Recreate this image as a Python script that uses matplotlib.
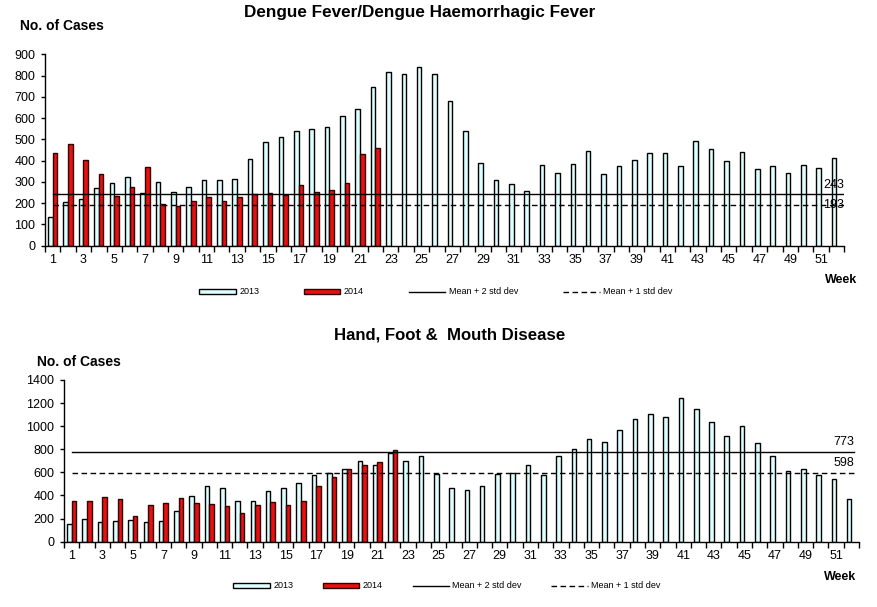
import numpy as np
import matplotlib.pyplot as plt
from matplotlib.patches import Patch
from matplotlib.lines import Line2D

plt.rcParams['font.family'] = ['Liberation Sans', 'DejaVu Sans']

weeks = list(range(1, 53))

dengue_2013 = [133, 204, 218, 270, 293, 321, 246, 298, 251, 274, 307, 307, 312,
               406, 490, 509, 538, 547, 556, 608, 641, 745, 815, 806, 839, 806,
               679, 538, 387, 307, 288, 255, 378, 340, 386, 445, 337, 375, 403,
               436, 436, 373, 492, 455, 398, 440, 361, 373, 342, 379, 365, 412]
dengue_2014 = [437, 476, 401, 335, 233, 274, 368, 194, 186, 208, 227, 208, 227,
               241, 246, 237, 284, 251, 260, 293, 429, 458]
dengue_2sd = 243
dengue_1sd = 193

hfmd_2013 = [153, 193, 167, 176, 185, 167, 176, 263, 393, 479, 462, 349, 349,
             436, 462, 505, 574, 592, 626, 696, 661, 768, 696, 739, 583, 462,
             445, 479, 583, 592, 661, 574, 739, 800, 886, 860, 964, 1059, 1103,
             1077, 1241, 1146, 1033, 912, 999, 852, 739, 609, 626, 574, 540, 367]
hfmd_2014 = [349, 349, 384, 367, 219, 315, 332, 375, 332, 323, 306, 245, 315,
             341, 315, 349, 479, 557, 626, 661, 687, 791]
hfmd_2sd = 773
hfmd_1sd = 598

c13 = '#DDFFFF'
c14 = '#E81010'

fig = plt.figure(figsize=(8.78, 6.07), dpi=100)


def draw(ax, v13, v14, sd2, sd1, ymax, ystep, line_end):
    x = np.arange(len(weeks))
    ax.bar(x - 0.15, v13, width=0.3, color=c13, edgecolor='black', linewidth=1)
    x14 = np.arange(len(v14))
    ax.bar(x14 + 0.15, v14, width=0.3, color=c14, edgecolor='#300000', linewidth=1)
    ax.plot([0, line_end], [sd2, sd2], color='black', lw=1)
    ax.plot([0, line_end], [sd1, sd1], color='black', lw=1, ls=(0, (4, 2.5)))
    ax.set_xlim(-0.5, len(weeks) - 0.5)
    ax.set_ylim(0, ymax)
    ax.set_yticks(np.arange(0, ymax + 1, ystep))
    ax.set_xticks(np.arange(len(weeks) + 1) - 0.5)
    ax.set_xticklabels([])
    ax.set_xticks([w - 1 for w in weeks if w % 2 == 1], minor=True)
    ax.set_xticklabels([str(w) for w in weeks if w % 2 == 1], minor=True)
    ax.tick_params(axis='x', which='major', length=4, width=1, direction='out')
    ax.tick_params(axis='x', which='minor', length=0, pad=6, labelsize=9)
    ax.tick_params(axis='y', length=3, width=1, labelsize=9, pad=4)
    for s in ['top', 'right']:
        ax.spines[s].set_visible(False)
    for s in ['left', 'bottom']:
        ax.spines[s].set_linewidth(1)


ax1 = fig.add_axes([0.0513, 0.5952, 0.91, 0.3153])
draw(ax1, dengue_2013, dengue_2014, dengue_2sd, dengue_1sd, 900, 100, 51.5)
ax1.text(51.5, dengue_2sd + 12, str(dengue_2sd), ha='right', va='bottom', fontsize=9)
ax1.text(51.5, dengue_1sd, str(dengue_1sd), ha='right', va='center', fontsize=9)

ax2 = fig.add_axes([0.0729, 0.1076, 0.9055, 0.2664])
draw(ax2, hfmd_2013, hfmd_2014, hfmd_2sd, hfmd_1sd, 1400, 200, 51.2)
ax2.text(51.2, hfmd_2sd + 35, str(hfmd_2sd), ha='right', va='bottom', fontsize=9)
ax2.text(51.2, hfmd_1sd + 35, str(hfmd_1sd), ha='right', va='bottom', fontsize=9)

fig.text(420 / 878, 1 - 12 / 607, 'Dengue Fever/Dengue Haemorrhagic Fever',
         ha='center', va='center', fontsize=12.3, fontweight='bold')
fig.text(20 / 878, 1 - 26 / 607, 'No. of Cases', ha='left', va='center',
         fontsize=10, fontweight='bold')
fig.text(825 / 878, 1 - 280 / 607, 'Week', ha='left', va='center',
         fontsize=9, fontweight='bold')

fig.text(450 / 878, 1 - 335 / 607, 'Hand, Foot &  Mouth Disease',
         ha='center', va='center', fontsize=12.1, fontweight='bold')
fig.text(37 / 878, 1 - 362 / 607, 'No. of Cases', ha='left', va='center',
         fontsize=10, fontweight='bold')
fig.text(824 / 878, 1 - 577 / 607, 'Week', ha='left', va='center',
         fontsize=9, fontweight='bold')

handles = [Patch(facecolor=c13, edgecolor='black', linewidth=1),
           Patch(facecolor=c14, edgecolor='#300000', linewidth=1),
           Line2D([], [], color='black', lw=1),
           Line2D([], [], color='black', lw=1, ls=(0, (4, 2.5)))]
labels = ['2013', '2014', 'Mean + 2 std dev', 'Mean + 1 std dev']

fig.legend(handles, labels, loc='center', bbox_to_anchor=(436 / 878, 1 - 292 / 607),
           ncol=4, frameon=False, fontsize=6.5, handlelength=4, handleheight=0.55,
           handletextpad=0.4, columnspacing=5)
fig.legend(handles, labels, loc='center', bbox_to_anchor=(447 / 878, 1 - 586 / 607),
           ncol=4, frameon=False, fontsize=6.5, handlelength=4, handleheight=0.55,
           handletextpad=0.4, columnspacing=3.3)

fig.savefig('out.png', dpi=100)
